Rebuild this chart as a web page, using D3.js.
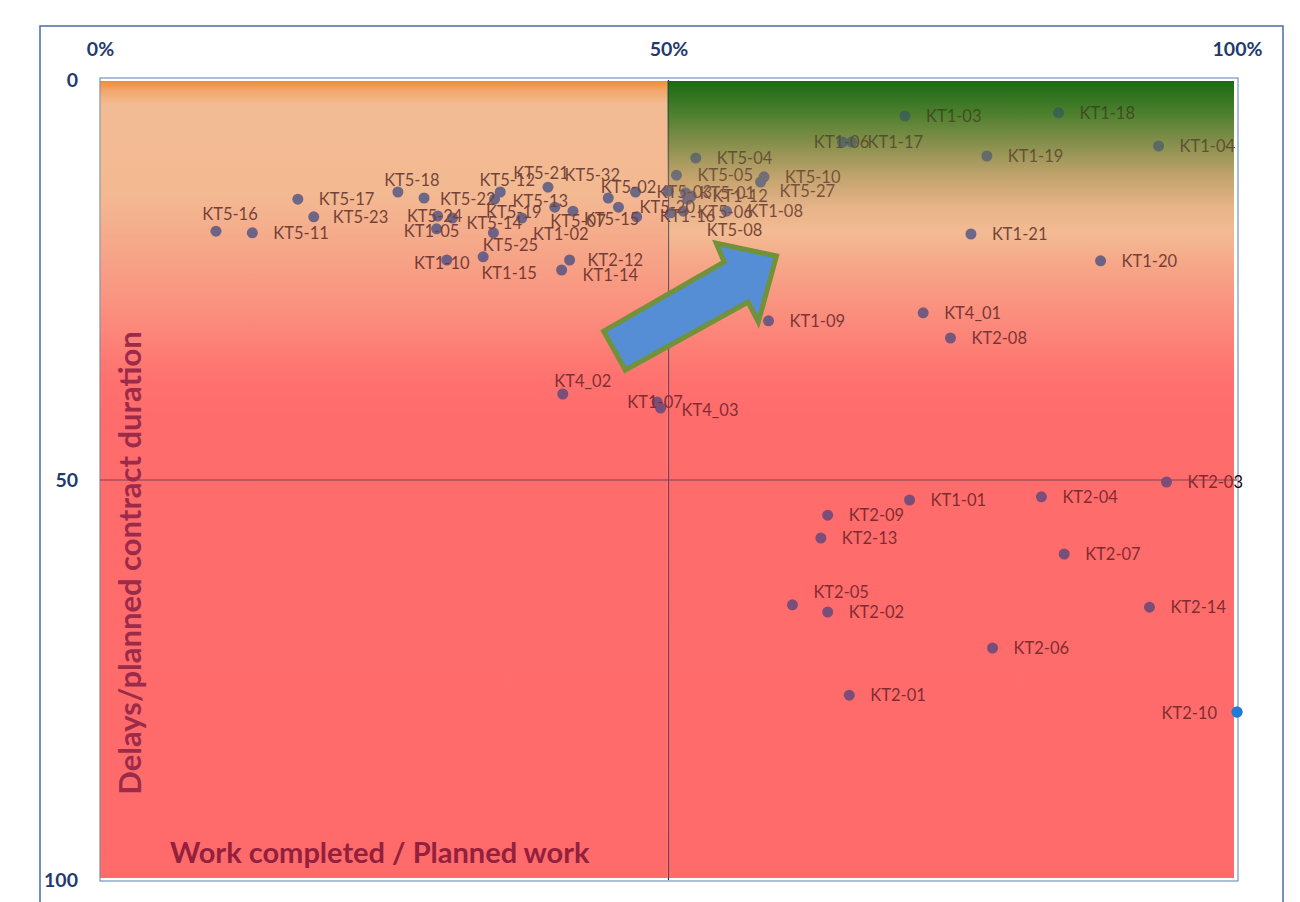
<!DOCTYPE html>
<html>
<head>
<meta charset="utf-8">
<script src="https://cdn.jsdelivr.net/npm/d3@7"></script>
<style>
  html, body { margin: 0; padding: 0; background: #ffffff; }
  svg { display: block; }
</style>
</head>
<body>
<svg id="chart" width="1300" height="902"></svg>
<script>
// ---------------- DATA ----------------
const names = [
  "KT5-16","KT5-11","KT5-17","KT5-23","KT5-18","KT5-22","KT5-24","KT5-14","KT1-05","KT1-10",
  "KT5-12","KT5-13","KT5-19","KT5-25","KT1-15","KT5-21","KT1-02","KT5-07","KT5-32","KT5-20",
  "KT5-02","KT5-15","KT2-12","KT1-14",
  "KT5-03","KT5-01","KT1-12","KT5-08","KT1-16","KT5-06","KT1-08","KT5-05","KT5-04","KT5-10","KT5-27",
  "KT1-03","KT1-18","KT1-06","KT1-17","KT1-19","KT1-04","KT1-21","KT1-20",
  "KT1-09","KT4_01","KT2-08","KT4_02","KT1-07","KT4_03",
  "KT2-03","KT1-01","KT2-04","KT2-09","KT2-13","KT2-07","KT2-05","KT2-02","KT2-14","KT2-06","KT2-01","KT2-10"
];
// Work completed / planned work (%)
const workCompleted = [
  10.2, 13.4, 17.4, 18.8, 26.2, 28.5, 29.7, 31.0, 29.6, 30.5,
  35.2, 34.7, 37.1, 34.6, 33.7, 39.4, 40.0, 41.6, 44.7, 45.6,
  47.1, 47.2, 41.3, 40.6,
  50.0, 51.5, 52.0, 51.7, 50.2, 51.3, 55.1, 50.7, 52.4, 58.4, 58.1,
  70.8, 84.3, 65.3, 66.1, 78.0, 93.1, 76.6, 88.0,
  58.8, 72.4, 74.8, 40.7, 49.0, 49.3,
  93.8, 71.2, 82.8, 64.0, 63.4, 84.8, 60.9, 64.0, 92.3, 78.5, 65.9, 100
];
// Delays / planned contract duration (%)
const delays = [
  18.9, 19.1, 14.9, 17.1, 14.0, 14.75, 17.0, 17.25, 18.6, 22.5,
  14.0, 14.9, 17.25, 19.1, 22.1, 13.4, 15.9, 16.4, 14.75, 15.9,
  14.0, 17.1, 22.5, 23.75,
  13.9, 14.1, 14.5, 14.9, 16.6, 16.4, 16.4, 11.9, 9.75, 12.1, 12.75,
  4.5, 4.1, 7.75, 7.75, 9.5, 8.25, 19.25, 22.6,
  30.1, 29.1, 32.25, 39.25, 40.25, 41.0,
  50.25, 52.5, 52.1, 54.4, 57.25, 59.25, 65.6, 66.5, 65.9, 71.0, 76.9, 79.0
];
const xTicks = [0, 50, 100];
const xTickLabels = ["0%", "50%", "100%"];
const yTicks = [0, 50, 100];
const yTickLabels = ["0", "50", "100"];
const xTitle = "Work completed / Planned work";
const yTitle = "Delays/planned contract duration";
// Annotation arrow outline, in data units
const arrowX = [44.3, 54.9, 54.2, 59.5, 57.9, 57.0, 46.2];
const arrowY = [31.4, 22.75, 20.4, 22.0, 30.25, 27.75, 36.25];

// ---------------- LABEL PLACEMENT (layout only) ----------------
const labelPlacement = {
  "KT5-16": {dx: 14, dy: -17, a: "middle"},
  "KT5-18": {dx: 14, dy: -12, a: "middle"},
  "KT5-22": {dx: 16, dy: 1},
  "KT5-23": {dx: 19, dy: 0},
  "KT5-24": {dx: -3, dy: 0, a: "middle"},
  "KT5-14": {dx: 14, dy: 5},
  "KT1-05": {dx: -5, dy: 2, a: "middle"},
  "KT1-10": {dx: -5, dy: 3, a: "middle"},
  "KT5-12": {dx: 7, dy: -12, a: "middle"},
  "KT5-13": {dx: 18, dy: 2},
  "KT5-19": {dx: -8, dy: -6, a: "middle"},
  "KT5-25": {dx: 17, dy: 12, a: "middle"},
  "KT1-15": {dx: 26, dy: 16, a: "middle"},
  "KT5-21": {dx: -7, dy: -14, a: "middle"},
  "KT5-32": {dx: -16, dy: -23, a: "middle"},
  "KT5-02": {dx: -7, dy: -5, a: "middle"},
  "KT5-07": {dx: 5, dy: 10, a: "middle"},
  "KT5-15": {dx: -25, dy: 2, a: "middle"},
  "KT1-02": {dx: 6, dy: 27, a: "middle"},
  "KT2-12": {dx: 18, dy: 0},
  "KT1-14": {dx: 21, dy: 5},
  "KT5-03": {dx: -12, dy: 1},
  "KT5-01": {dx: 14, dy: 0},
  "KT5-08": {dx: 19, dy: 31},
  "KT1-16": {dx: -11, dy: 3},
  "KT5-06": {dx: 14, dy: 1},
  "KT5-27": {dx: 19, dy: 9},
  "KT1-06": {dx: -1, dy: 0, a: "middle"},
  "KT1-17": {dx: 16, dy: 0},
  "KT4_02": {dx: 20, dy: -13, a: "middle"},
  "KT1-07": {dx: -2, dy: 0, a: "middle"},
  "KT4_03": {dx: 21, dy: 2},
  "KT2-05": {dx: 21, dy: -13},
  "KT2-10": {dx: -20, dy: 1, a: "end"}
};
const defaultPlacement = {dx: 21, dy: 0, a: "start"};

// ---------------- CHART ----------------
const svg = d3.select("#chart");
const pL = 100, pR = 1237, pT = 80, pB = 880;
const x = d3.scaleLinear().domain([0, 100]).range([pL, pR]);
const y = d3.scaleLinear().domain([0, 100]).range([pT, pB]);

const defs = svg.append("defs");
function grad(id, stops, opacities) {
  const g = defs.append("linearGradient").attr("id", id)
    .attr("x1", 0).attr("y1", 0).attr("x2", 0).attr("y2", 1);
  stops.forEach((s, i) => {
    g.append("stop").attr("offset", s[0]).attr("stop-color", s[1])
      .attr("stop-opacity", opacities ? opacities[i] : 1);
  });
}
const leftStops = [
  [0, "#F08C3A"], [0.012, "#F2A66C"], [0.03, "#F3BB93"], [0.14, "#F3BA92"],
  [0.22, "#F6A487"], [0.30, "#FB8B7C"], [0.37, "#FE726F"], [0.42, "#FF6C6C"], [1, "#FF6B6B"]
];
const rightStops = [
  [0, "#1B6A15"], [0.04, "#4C7F2E"], [0.08, "#88904E"], [0.12, "#C2A36D"],
  [0.16, "#E8B489"], [0.19, "#F3BB93"], [0.23, "#F6A788"],
  [0.30, "#FB8B7C"], [0.37, "#FE726F"], [0.42, "#FF6C6C"], [1, "#FF6B6B"]
];
grad("bgL", leftStops);
grad("bgR", rightStops);
grad("ovL", leftStops, [0.45, 0.42, 0.36, 0.36, 0.36, 0.38, 0.4, 0.4, 0.4]);
grad("ovR", rightStops, [0.62, 0.6, 0.55, 0.5, 0.42, 0.36, 0.36, 0.38, 0.4, 0.4, 0.4]);

// outer chart border
svg.append("rect").attr("x", 40).attr("y", 26).attr("width", 1243).attr("height", 900)
  .attr("fill", "none").attr("stroke", "#4A6BA6").attr("stroke-width", 1.5);

const bgTop = pT + 1, bgBottom = pB - 2, bgRight = pR - 3;
// backgrounds
svg.append("rect").attr("x", pL).attr("y", bgTop).attr("width", x(50) - 1 - pL)
  .attr("height", bgBottom - bgTop).attr("fill", "url(#bgL)");
svg.append("rect").attr("x", x(50) - 1).attr("y", bgTop).attr("width", bgRight - x(50) + 1)
  .attr("height", bgBottom - bgTop).attr("fill", "url(#bgR)");

// plot border
svg.append("rect").attr("x", pL).attr("y", pT - 2).attr("width", pR + 1 - pL)
  .attr("height", pB + 1 - (pT - 2)).attr("fill", "none")
  .attr("stroke", "#5A7CB2").attr("stroke-width", 1);

// cross axis lines at 50 / 50%
svg.append("line").attr("x1", x(50)).attr("x2", x(50)).attr("y1", pT).attr("y2", pB)
  .attr("stroke", "#2A1E40").attr("stroke-width", 1.2);
svg.append("line").attr("x1", pL).attr("x2", pR).attr("y1", y(50)).attr("y2", y(50))
  .attr("stroke", "#2A1E40").attr("stroke-width", 1.2);

const data = names.map((n, i) => ({name: n, wx: workCompleted[i], dl: delays[i]}));

// points (a point sitting on the 100% edge lies outside the tint shape and keeps its plain blue)
svg.append("g").selectAll("circle").data(data).join("circle")
  .attr("cx", d => x(d.wx)).attr("cy", d => y(d.dl)).attr("r", 5.5)
  .attr("fill", d => d.wx >= 100 ? "#1F7BD6" : "#223A80");

// labels
svg.append("g").selectAll("text").data(data).join("text")
  .attr("x", d => x(d.wx) + (labelPlacement[d.name] || defaultPlacement).dx)
  .attr("y", d => y(d.dl) + (labelPlacement[d.name] || defaultPlacement).dy)
  .attr("dy", "0.35em")
  .attr("text-anchor", d => (labelPlacement[d.name] || defaultPlacement).a || "start")
  .attr("font-family", "Lato, 'Open Sans', sans-serif")
  .attr("font-size", 16.5)
  .attr("fill", "#2A0008")
  .text(d => d.name);

// translucent tint overlay
svg.append("rect").attr("x", pL).attr("y", bgTop).attr("width", x(50) - 1 - pL)
  .attr("height", bgBottom - bgTop).attr("fill", "url(#ovL)");
svg.append("rect").attr("x", x(50) - 1).attr("y", bgTop).attr("width", bgRight - x(50) + 1)
  .attr("height", bgBottom - bgTop).attr("fill", "url(#ovR)");

// re-draw edge points above the tint
svg.append("g").selectAll("circle").data(data.filter(d => d.wx >= 100)).join("circle")
  .attr("cx", d => x(d.wx)).attr("cy", d => y(d.dl)).attr("r", 5.5)
  .attr("fill", "#1F7BD6");

// arrow annotation
const arrowPts = arrowX.map((v, i) => [x(v), y(arrowY[i])]);
svg.append("polygon").attr("points", arrowPts.map(p => p.join(",")).join(" "))
  .attr("fill", "#558ED5").attr("stroke", "#71923A").attr("stroke-width", 5)
  .attr("stroke-linejoin", "miter");

// axes
const xAxis = d3.axisTop(x).tickValues(xTicks).tickSize(0).tickPadding(24)
  .tickFormat((d, i) => xTickLabels[i]);
const gx = svg.append("g").attr("transform", `translate(0,${pT})`).call(xAxis);
gx.select(".domain").remove();
gx.selectAll("text").attr("font-family", "Lato, sans-serif").attr("font-weight", "bold")
  .attr("font-size", 19.5).attr("fill", "#1F3A6E");

const yAxis = d3.axisLeft(y).tickValues(yTicks).tickSize(0).tickPadding(22)
  .tickFormat((d, i) => yTickLabels[i]);
const gy = svg.append("g").attr("transform", `translate(${pL},0)`).call(yAxis);
gy.select(".domain").remove();
gy.selectAll("text").attr("font-family", "Lato, sans-serif").attr("font-weight", "bold")
  .attr("font-size", 19.5).attr("fill", "#1F3A6E");

// titles
svg.append("text").attr("x", 170).attr("y", 853).attr("dy", "0.35em")
  .attr("font-family", "Lato, sans-serif").attr("font-weight", "bold").attr("font-size", 29)
  .attr("fill", "#93203C").text(xTitle);
svg.append("text").attr("transform", "translate(130,563) rotate(-90)")
  .attr("text-anchor", "middle").attr("dy", "0.35em")
  .attr("font-family", "Lato, sans-serif").attr("font-weight", "bold").attr("font-size", 31)
  .attr("fill", "#9C2B4A").text(yTitle);
</script>
</body>
</html>
